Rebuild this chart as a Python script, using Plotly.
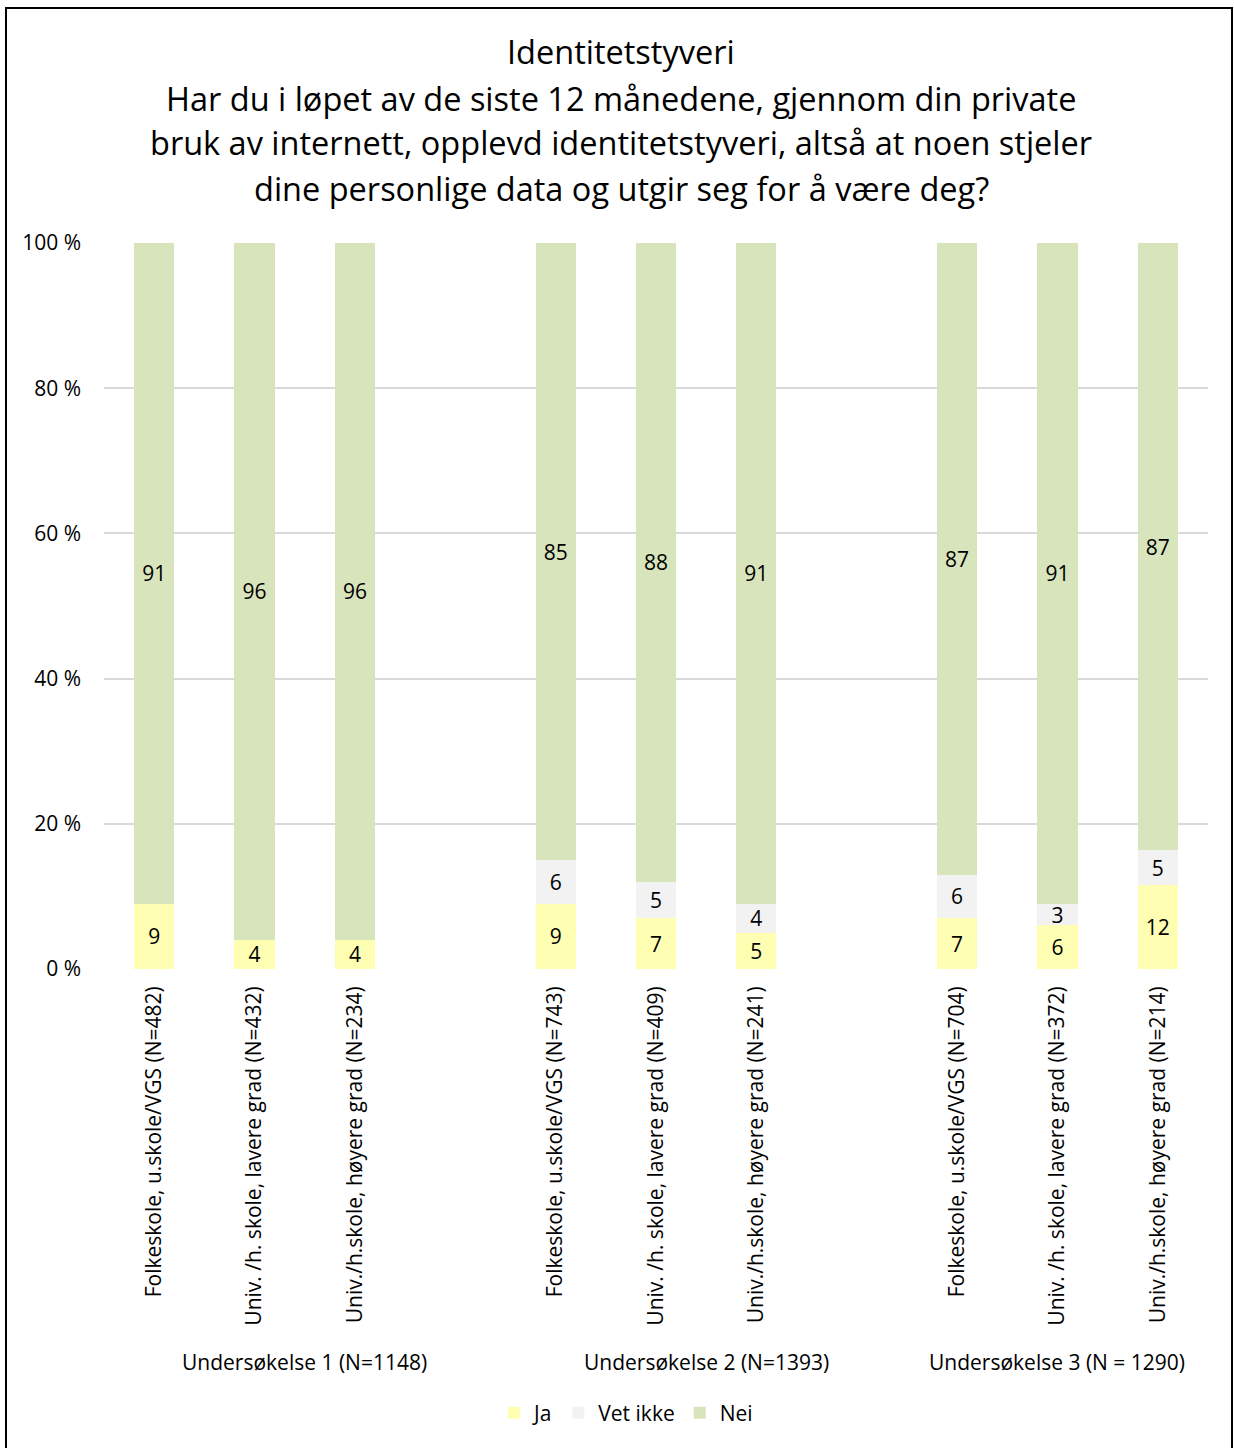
import plotly.graph_objects as go

# ---- data ----
categories = [
    "Folkeskole, u.skole/VGS (N=482)",
    "Univ. /h. skole, lavere grad (N=432)",
    "Univ./h.skole, høyere grad (N=234)",
    "Folkeskole, u.skole/VGS (N=743)",
    "Univ. /h. skole, lavere grad (N=409)",
    "Univ./h.skole, høyere grad (N=241)",
    "Folkeskole, u.skole/VGS (N=704)",
    "Univ. /h. skole, lavere grad (N=372)",
    "Univ./h.skole, høyere grad (N=214)",
]
slots = [0, 1, 2, 4, 5, 6, 8, 9, 10]  # empty slot between survey groups
groups = ["Undersøkelse 1 (N=1148)", "Undersøkelse 2 (N=1393)", "Undersøkelse 3 (N = 1290)"]
group_centers = [1.5, 5.5, 9]

ja = [9, 4, 4, 9, 7, 5, 7, 6, 12]
vet_ikke = [0, 0, 0, 6, 5, 4, 6, 3, 5]
nei = [91, 96, 96, 85, 88, 91, 87, 91, 87]

series = [("Ja", ja, "#FFFFB3"), ("Vet ikke", vet_ikke, "#F2F2F2"), ("Nei", nei, "#D8E4BC")]

y_ticks = [0, 20, 40, 60, 80, 100]
y_ticktext = ["0 %", "20 %", "40 %", "60 %", "80 %", "100 %"]

title_lines = [
    "Identitetstyveri",
    "Har du i løpet av de siste 12 månedene, gjennom din private",
    "bruk av internett, opplevd identitetstyveri, altså at noen stjeler",
    "dine personlige data og utgir seg for å være deg?",
]

FONT = "Open Sans"
W, H = 1234, 1448
L, R, T, B = 104, 26, 243, 479
ph = H - T - B
pw = W - L - R

def py(pix):
    return (H - B - pix) / ph

def px(pix):
    return (pix - L) / pw

fig = go.Figure()
for name, vals, color in series:
    fig.add_trace(go.Bar(
        name=name, x=slots, y=vals, width=0.4,
        marker=dict(color=color, line=dict(width=0)),
        text=[str(v) if v else "" for v in vals],
        textposition="inside", insidetextanchor="middle",
        textangle=0, constraintext="none",
        textfont=dict(family=FONT, size=21, color="#000000"),
        hoverinfo="skip",
    ))

annotations = []
title_y = [52, 98, 143, 188]
for line, yy in zip(title_lines, title_y):
    annotations.append(dict(text=line, x=px(621), y=py(yy), xref="paper", yref="paper",
                            xanchor="center", yanchor="middle", showarrow=False,
                            font=dict(family=FONT, size=32.5, color="#000000")))
for g, c in zip(groups, group_centers):
    annotations.append(dict(text=g, x=c, y=py(1362), xref="x", yref="paper",
                            xanchor="center", yanchor="middle", showarrow=False,
                            font=dict(family=FONT, size=21, color="#000000")))

fig.update_layout(
    width=W, height=H,
    margin=dict(l=L, r=R, t=T, b=B, autoexpand=False),
    barmode="stack", barnorm="percent",
    paper_bgcolor="white", plot_bgcolor="white",
    font=dict(family=FONT, size=21, color="#000000"),
    showlegend=True,
    legend=dict(orientation="h", x=px(626), xanchor="center", y=py(1413), yanchor="middle",
                font=dict(family=FONT, size=21, color="#000000"), traceorder="normal",
                itemwidth=30, itemclick=False),
    annotations=annotations,
    shapes=[dict(type="rect", xref="paper", yref="paper",
                 x0=px(6), x1=px(1232), y0=py(1452), y1=py(8),
                 line=dict(color="#000000", width=2), fillcolor="rgba(0,0,0,0)", layer="above")],
    xaxis=dict(range=[-0.5, 10.5], tickmode="array", tickvals=slots, ticktext=categories,
               tickangle=-90, showgrid=False, zeroline=False, showline=False, ticks="",
               ticklabelstandoff=12,
               tickfont=dict(family=FONT, size=21, color="#000000"), fixedrange=True),
    yaxis=dict(range=[0, 100], tickmode="array", tickvals=y_ticks, ticktext=y_ticktext,
               showgrid=True, gridcolor="#D9D9D9", gridwidth=2, zeroline=False,
               showline=False, ticks="", ticklabelstandoff=22,
               tickfont=dict(family=FONT, size=21, color="#000000"), fixedrange=True),
)

fig.write_html("out.html", config={"displayModeBar": False},
               post_script="document.body.style.margin='0';")
